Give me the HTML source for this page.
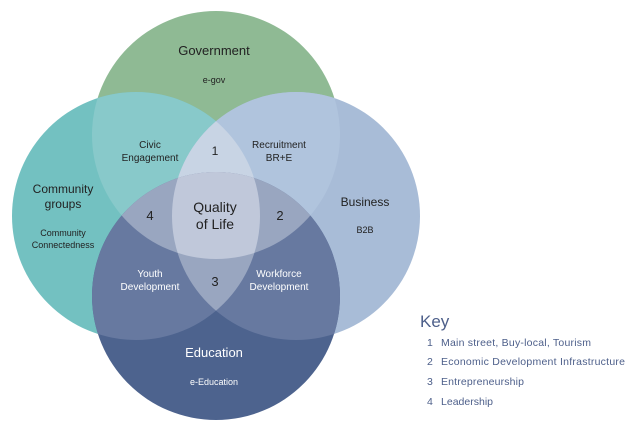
<!DOCTYPE html>
<html><head><meta charset="utf-8"><style>
html,body{margin:0;padding:0;background:#fff;}
svg{display:block;font-family:"Liberation Sans",sans-serif;}
</style></head><body>
<svg width="640" height="430" viewBox="0 0 640 430">
<defs>
<clipPath id="cG"><circle cx="216" cy="135" r="124"/></clipPath>
<clipPath id="cC"><circle cx="136" cy="216" r="124"/></clipPath>
<clipPath id="cB"><circle cx="296" cy="216" r="124"/></clipPath>
<clipPath id="cE"><circle cx="216" cy="296" r="124"/></clipPath>
</defs>
<circle cx="216" cy="135" r="124" fill="#8fba94"/>
<circle cx="136" cy="216" r="124" fill="#73c1c1"/>
<circle cx="296" cy="216" r="124" fill="#a8bcd7"/>
<circle cx="216" cy="296" r="124" fill="#4d638e"/>
<g clip-path="url(#cG)"><circle cx="136" cy="216" r="124" fill="#88c9ca"/><circle cx="296" cy="216" r="124" fill="#b0c4dd"/><circle cx="216" cy="296" r="124" fill="#99a6c0"/></g>
<g clip-path="url(#cE)"><circle cx="136" cy="216" r="124" fill="#6779a0"/><circle cx="296" cy="216" r="124" fill="#6779a0"/></g>
<g clip-path="url(#cG)"><g clip-path="url(#cC)"><circle cx="296" cy="216" r="124" fill="#c8d4e4"/><circle cx="216" cy="296" r="124" fill="#99a6c0"/></g></g>
<g clip-path="url(#cG)"><g clip-path="url(#cB)"><circle cx="216" cy="296" r="124" fill="#99a6c0"/></g></g>
<g clip-path="url(#cC)"><g clip-path="url(#cB)"><circle cx="216" cy="296" r="124" fill="#99a6c0"/></g></g>
<g clip-path="url(#cG)"><g clip-path="url(#cC)"><g clip-path="url(#cB)"><circle cx="216" cy="296" r="124" fill="#c0c8da"/></g></g></g>

<g text-anchor="middle" fill="#222">
<text x="214" y="55" font-size="13">Government</text>
<text x="214" y="83" font-size="9">e-gov</text>
<text x="150" y="148" font-size="10">Civic</text>
<text x="150" y="161" font-size="10">Engagement</text>
<text x="215" y="155" font-size="12">1</text>
<text x="279" y="148" font-size="10">Recruitment</text>
<text x="279" y="161" font-size="10">BR+E</text>
<text x="63" y="193" font-size="12">Community</text>
<text x="63" y="208" font-size="12">groups</text>
<text x="63" y="236" font-size="9">Community</text>
<text x="63" y="248" font-size="9">Connectedness</text>
<text x="215" y="212" font-size="14">Quality</text>
<text x="215" y="229" font-size="14">of Life</text>
<text x="150" y="220" font-size="13">4</text>
<text x="280" y="220" font-size="13">2</text>
<text x="365" y="206" font-size="12">Business</text>
<text x="365" y="233" font-size="9">B2B</text>
<text x="215" y="286" font-size="13">3</text>
</g>
<g text-anchor="middle" fill="#fff">
<text x="150" y="277" font-size="10">Youth</text>
<text x="150" y="290" font-size="10">Development</text>
<text x="279" y="277" font-size="10">Workforce</text>
<text x="279" y="290" font-size="10">Development</text>
<text x="214" y="357" font-size="13">Education</text>
<text x="214" y="385" font-size="9">e-Education</text>
</g>
<g fill="#4d5f8a">
<text x="420" y="327" font-size="17">Key</text>
<g font-size="10.5">
<text x="427" y="346">1</text><text x="441" y="346" textLength="150">Main street, Buy-local, Tourism</text>
<text x="427" y="365">2</text><text x="441" y="365" textLength="184">Economic Development Infrastructure</text>
<text x="427" y="385">3</text><text x="441" y="385" textLength="83">Entrepreneurship</text>
<text x="427" y="405">4</text><text x="441" y="405" textLength="52">Leadership</text>
</g></g>
</svg>
</body></html>
